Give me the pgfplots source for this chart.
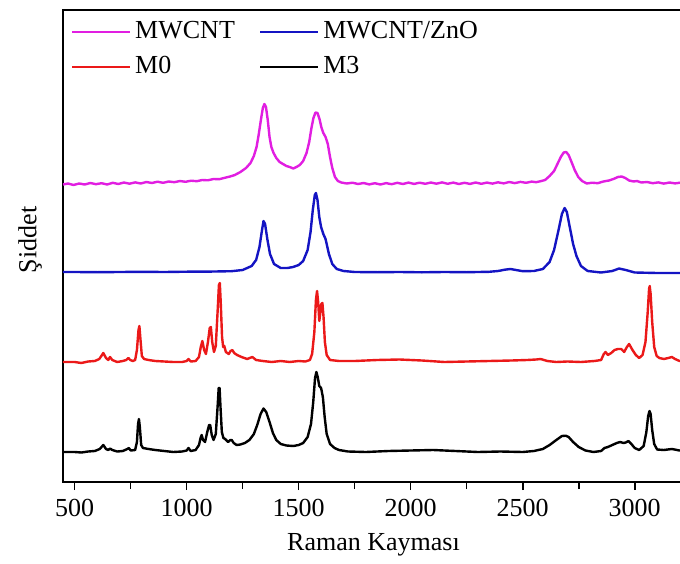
\documentclass[border=0pt]{standalone}
\usepackage{fontspec}
\setmainfont{Liberation Serif}
\usepackage{pgfplots}
\pgfplotsset{compat=1.18}
\definecolor{cmag}{RGB}{225,30,225}
\definecolor{cblue}{RGB}{20,20,195}
\definecolor{cred}{RGB}{235,25,25}
\begin{document}
\fontsize{13}{15}\selectfont
\begin{tikzpicture}[every node/.append style={font=\rmfamily\fontsize{13}{15}\selectfont}]
\useasboundingbox (-31.5pt,-40.5pt) rectangle (308.5pt,241pt);
\begin{axis}[
 scale only axis, width=310.5pt, height=236pt,
 at={(0,0)}, anchor=south west,
 xmin=448, xmax=3220, ymin=0, ymax=472,
 xtick={500,1000,...,3000}, minor x tick num=1,
 xtick pos=left, tick align=outside,
 major tick length=4pt, minor tick length=3.5pt,
 ytick=\empty,
 /pgf/number format/assume math mode=true,
 /pgf/number format/1000 sep={},
 tick label style={font=\rmfamily\fontsize{13}{15}\selectfont},
 label style={font=\rmfamily\fontsize{13}{15}\selectfont},
 axis line style={line width=0.9pt},
 every tick/.style={line width=0.8pt, black},
 xlabel={Raman Kayması}, ylabel={Şiddet},
 every axis x label/.style={at={(axis description cs:0.5,-0.1335)}, anchor=center},
 every axis y label/.style={at={(axis description cs:-0.053,0.513)}, rotate=90, anchor=center},
 legend cell align=left,
 legend style={at={(rel axis cs:0.012,0.985)}, anchor=north west, draw=none, fill=none,
   legend columns=2, row sep=3pt, inner sep=0pt, font=\rmfamily\fontsize{13}{15}\selectfont,
   /tikz/every even column/.append style={column sep=10pt}},
 legend image code/.code={\draw[#1] (0pt,0pt) -- (29pt,0pt);},
 every axis plot/.append style={line width=1.2pt, line join=round},
]
\addplot[cmag] coordinates {(448,297.5)(470,298.5)(495,297)(520,298.5)(545,297.5)(570,299)(595,297.8)(620,298.8)(645,297.5)(670,299.2)(695,298)(720,299.5)(745,298.3)(770,299.6)(795,298.5)(820,300)(845,299)(870,300.3)(895,299.2)(920,300.5)(945,299.8)(970,301)(995,300.2)(1020,301.3)(1045,300.8)(1070,302)(1095,301.7)(1120,303)(1145,302.8)(1170,304.2)(1194,305.5)(1215,307)(1240,310)(1265,314)(1285,319)(1300,326)(1312,335)(1322,348)(1332,363)(1340,374)(1347,378)(1354,375)(1362,362)(1370,345)(1378,335)(1388,329)(1400,324)(1415,320)(1430,318)(1445,316)(1460,315)(1476,313.5)(1490,315)(1505,317)(1520,321)(1535,329)(1547,340)(1557,354)(1566,364)(1575,369.5)(1584,369)(1593,363)(1601,355)(1610,349)(1620,345)(1630,338)(1640,325)(1650,314)(1662,305)(1675,301)(1690,299.5)(1715,298.5)(1740,299.3)(1765,298)(1790,299)(1815,297.6)(1840,298.8)(1865,297.5)(1890,298.9)(1915,297.8)(1940,299.2)(1965,298)(1990,299.4)(2015,298.1)(2040,299.3)(2065,298.2)(2090,299.5)(2115,298.3)(2140,299.6)(2165,298.2)(2190,299.4)(2215,298)(2240,299.2)(2265,298.1)(2290,299.5)(2315,298.2)(2340,299.4)(2365,298.4)(2390,299.7)(2415,298.6)(2440,300)(2465,298.9)(2490,300.1)(2515,299.2)(2540,300.4)(2560,299.8)(2580,300.8)(2600,302)(2620,306)(2640,311)(2655,318)(2670,325)(2683,329.5)(2694,330)(2705,327)(2718,320)(2732,312)(2748,305)(2765,301)(2786,298.5)(2810,299.3)(2835,298.8)(2860,300.5)(2885,301.5)(2905,303)(2925,305)(2942,305.5)(2958,304)(2975,301.5)(2995,300.5)(3010,301)(3030,299.5)(3055,300)(3080,298.8)(3105,299.6)(3130,298.4)(3155,299.5)(3180,298.6)(3205,299.4)(3220,298.8)};
\addlegendentry{MWCNT}
\addplot[cblue] coordinates {(448,210)(500,210)(600,209.8)(700,210)(800,210.2)(900,210)(1000,210.3)(1100,210.4)(1200,210.8)(1250,212)(1290,216)(1310,222)(1325,235)(1335,250)(1343,261)(1350,258)(1360,243)(1372,228)(1390,218)(1420,214)(1450,214)(1475,215)(1500,217)(1520,221)(1540,232)(1553,250)(1563,272)(1572,287)(1577,289)(1584,282)(1592,265)(1600,255)(1610,248)(1620,243)(1635,228)(1650,218)(1670,213)(1700,211)(1750,210)(1850,209.8)(1950,210)(2050,209.7)(2150,210)(2250,209.8)(2350,210.2)(2390,211)(2420,212.3)(2445,213)(2470,212)(2500,210.8)(2550,211)(2590,213)(2620,220)(2640,232)(2660,252)(2675,268)(2687,274)(2697,270)(2710,255)(2725,238)(2740,226)(2760,216)(2790,211)(2850,209.5)(2900,211)(2930,213.5)(2960,212)(3000,209.5)(3100,209)(3220,209)};
\addlegendentry{MWCNT/ZnO}
\addplot[cred] coordinates {(448,120)(500,120)(530,119)(560,120.5)(590,121)(610,123)(628,129)(640,124)(650,122)(658,125)(668,122)(690,120)(715,121)(730,122)(740,124)(748,122)(760,121)(770,122)(778,132)(785,152)(789,156)(794,142)(800,126)(810,123)(830,122)(860,121)(900,120.5)(940,120)(980,120)(1000,121)(1008,123)(1018,120.5)(1040,121)(1055,125)(1063,135)(1070,141)(1078,132)(1086,128)(1095,140)(1103,154)(1108,155)(1114,140)(1122,130)(1130,136)(1138,170)(1144,197)(1148,199)(1152,180)(1158,145)(1163,135)(1168,136)(1175,130)(1188,128)(1196,131)(1204,132)(1212,129)(1225,127)(1245,125)(1270,123)(1293,125)(1310,122)(1340,121)(1380,120)(1420,121)(1460,120)(1500,121)(1530,120.5)(1550,122)(1560,128)(1570,150)(1577,182)(1582,191)(1587,180)(1592,161)(1596,168)(1601,178)(1606,179)(1611,165)(1617,140)(1625,127)(1640,122)(1680,121)(1750,121)(1850,122)(1950,122.5)(2050,121.5)(2150,120)(2250,120.5)(2350,121)(2450,121.5)(2520,122)(2560,122.5)(2580,123)(2610,121)(2650,120)(2700,120.5)(2760,120)(2820,121)(2850,122)(2862,128)(2870,130)(2880,127)(2895,129)(2910,132)(2925,133)(2940,133)(2953,130)(2965,135)(2975,138)(2990,132)(3005,127)(3020,124)(3035,127)(3048,140)(3058,170)(3064,193)(3067,196)(3071,188)(3078,160)(3087,135)(3098,126)(3110,124)(3130,123)(3150,124)(3166,125)(3180,123)(3200,121)(3220,121)};
\addlegendentry{M0}
\addplot[black] coordinates {(448,30)(500,30)(530,29.5)(560,30.5)(590,31)(612,33)(628,37)(640,33)(650,32)(658,33.5)(668,32)(690,30.5)(715,31)(735,33)(742,34)(750,31.5)(770,32)(778,40)(783,58)(787,63)(791,55)(797,37)(805,34)(830,33)(860,32)(900,31)(940,30)(980,30.5)(1000,31.5)(1008,34)(1018,31)(1040,32)(1055,37)(1062,44)(1067,47)(1073,42)(1082,40)(1092,50)(1100,57)(1105,57)(1112,47)(1120,42)(1130,48)(1138,75)(1143,94)(1147,94)(1151,75)(1157,50)(1164,44)(1172,43)(1185,40)(1195,42)(1201,42)(1210,39)(1223,37)(1240,37.5)(1260,39)(1280,42)(1300,48)(1315,57)(1330,68)(1343,73.5)(1355,70)(1370,60)(1385,49)(1400,42)(1420,38)(1445,36.5)(1476,36)(1500,37)(1520,39)(1540,45)(1555,58)(1565,80)(1573,104)(1579,110)(1585,105)(1592,96)(1600,94)(1608,85)(1616,65)(1625,48)(1640,38)(1660,34)(1680,32)(1720,30.5)(1800,30)(1900,31)(2000,31.5)(2100,32)(2200,31)(2300,30)(2400,30.5)(2500,30)(2550,31)(2590,33)(2620,37)(2650,42)(2675,46)(2692,46.3)(2705,45)(2725,40)(2750,35)(2780,31.5)(2816,30)(2850,31)(2865,34)(2880,35)(2900,37)(2920,39)(2935,40)(2950,39)(2960,39.5)(2972,41)(2985,38)(3000,34)(3020,32)(3040,36)(3052,50)(3060,66)(3066,71)(3071,68)(3078,52)(3087,38)(3100,32.5)(3130,32)(3166,33)(3200,31.5)(3220,31.5)};
\addlegendentry{M3}
\end{axis}
\end{tikzpicture}
\end{document}
